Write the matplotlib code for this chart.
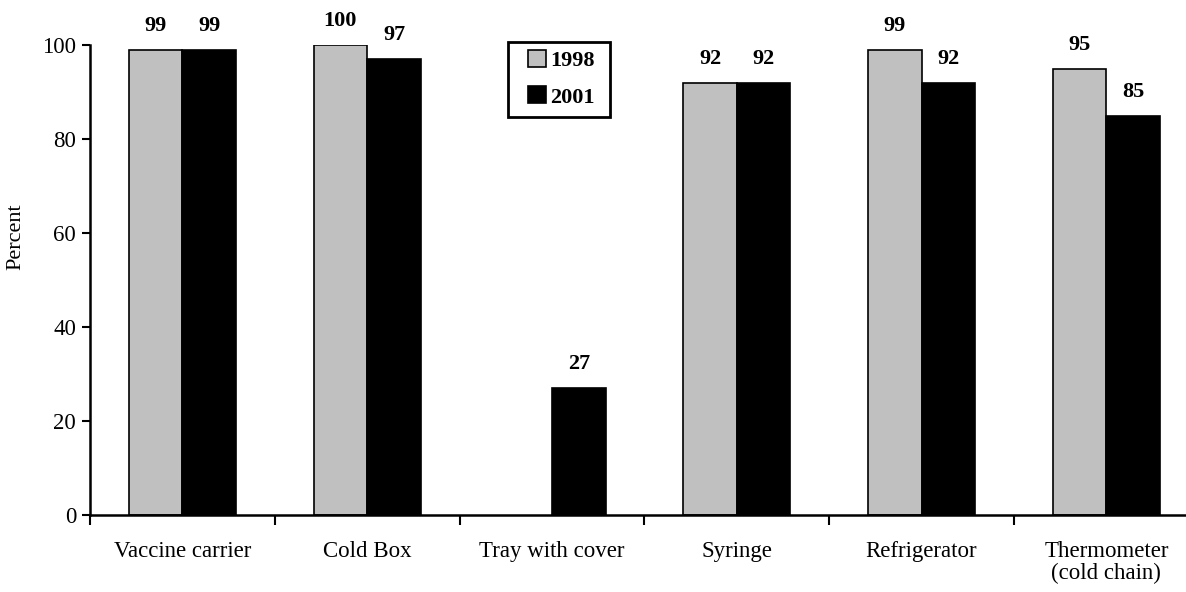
import matplotlib
matplotlib.use("Agg")
import matplotlib.pyplot as plt
from matplotlib.patches import Rectangle
import numpy as np

categories = ["Vaccine carrier", "Cold Box", "Tray with cover", "Syringe",
              "Refrigerator", "Thermometer\n(cold chain)"]
values_1998 = [99, 100, np.nan, 92, 99, 95]
values_2001 = [99, 97, 27, 92, 92, 85]
series_names = ["1998", "2001"]
y_ticks = [0, 20, 40, 60, 80, 100]

plt.rcParams['font.family'] = ['Liberation Serif', 'DejaVu Serif']

W, H = 1186, 592
fig = plt.figure(figsize=(W / 100, H / 100), dpi=100)
left, right, bottom, top = 90, 1186, 515, 45
ax = fig.add_axes([left / W, 1 - bottom / H, (right - left) / W, (bottom - top) / H])

cat_px = 184.8
x = np.arange(len(categories))
bw = 0.29
ax.bar(x - bw / 2, values_1998, bw, color="#c0c0c0", edgecolor="black", linewidth=1.2,
       label=series_names[0])
ax.bar(x + bw / 2, values_2001, bw, color="black", edgecolor="black", linewidth=1.2,
       label=series_names[1])

for xs, vals in ((x - bw / 2, values_1998), (x + bw / 2, values_2001)):
    for xi, v in zip(xs, vals):
        if np.isnan(v):
            continue
        ax.annotate(f"{v:g}", (xi, v), xytext=(0, 17), textcoords="offset points",
                    ha="center", va="center", fontsize=16, fontweight="bold")

ax.set_xlim(-0.5, -0.5 + (right - left) / cat_px)
ax.set_ylim(0, 100)
ax.set_yticks(y_ticks)
ax.tick_params(axis="y", labelsize=16.5, width=1.5, length=6, direction="out", pad=4)
ax.set_xticks(x)
ax.set_xticklabels(categories, fontsize=16.5, linespacing=1.05)
ax.tick_params(axis="x", which="major", length=0, pad=19)
ax.set_xticks(np.arange(len(categories)) - 0.5, minor=True)
ax.tick_params(axis="x", which="minor", length=7, width=1.5, direction="out")

for s in ("top", "right"):
    ax.spines[s].set_visible(False)
for s in ("left", "bottom"):
    ax.spines[s].set_linewidth(1.8)
ax.set_ylabel("Percent", fontsize=16, va="center", ha="center")
ax.yaxis.set_label_coords((16 - left) / (right - left), (bottom - 237) / (bottom - top))

# legend box (fixed frame) and entries
ax.add_patch(Rectangle((508 / W, 1 - 117 / H), (610 - 508) / W, (117 - 42) / H,
                       transform=fig.transFigure, facecolor="white",
                       edgecolor="black", linewidth=2, zorder=5, clip_on=False))
leg = ax.legend(loc="upper left", bbox_to_anchor=(528 / W, 1 - 50 / H),
                bbox_transform=fig.transFigure, borderaxespad=0, frameon=False,
                handlelength=0.8, handleheight=0.8, handletextpad=0.2,
                borderpad=0, labelspacing=0.68,
                prop={"weight": "bold", "size": 16})
leg.set_zorder(6)

fig.savefig("out.png", dpi=100)
